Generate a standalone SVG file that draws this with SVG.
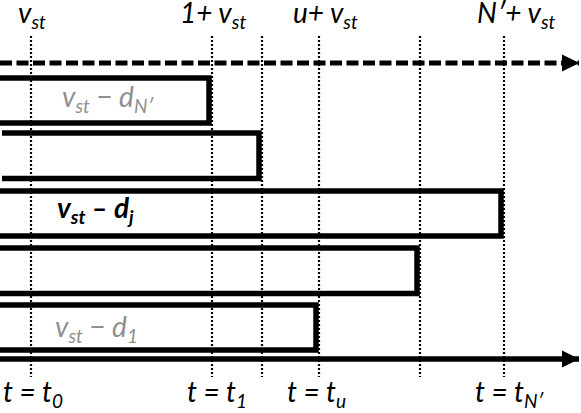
<svg xmlns="http://www.w3.org/2000/svg" width="581" height="413" viewBox="0 0 581 413">
<style>
text{font-family:Lato,"Open Sans","Liberation Sans",sans-serif;font-style:italic;font-size:28px;fill:#000}
.g{fill:#8f8f8f}
.b{font-weight:bold}
.sub{font-size:19px}
.dot{stroke:#000;stroke-width:2.2;stroke-dasharray:2 2;fill:none}
.bar{stroke:#000;stroke-width:5.5;fill:none}
</style>
<defs>
<marker id="ah" markerUnits="userSpaceOnUse" markerWidth="18" markerHeight="18" refX="17" refY="9" orient="auto" viewBox="0 0 18 18">
<path d="M0,0.5 L17.5,9 L0,17.5 Z" fill="#000"/>
</marker>
</defs>
<g id="grid">
<line class="dot" x1="31" y1="36" x2="31" y2="377"/>
<line class="dot" x1="212" y1="36" x2="212" y2="377"/>
<line class="dot" x1="262" y1="36" x2="262" y2="377"/>
<line class="dot" x1="319" y1="36" x2="319" y2="377"/>
<line class="dot" x1="420" y1="36" x2="420" y2="377"/>
<line class="dot" x1="504" y1="36" x2="504" y2="377"/>
</g>
<g id="connectors">
<line x1="0" y1="63" x2="579" y2="63" stroke="#000" stroke-width="5" stroke-dasharray="12 4.5" marker-end="url(#ah)"/>
<line x1="0" y1="359" x2="579" y2="359" stroke="#000" stroke-width="5.5" marker-end="url(#ah)"/>
</g>
<g id="bar-dN">
<path class="bar" d="M-5,78 H209 V123 H-5"/>
<text x="62" y="107" class="g">v<tspan class="sub" dy="6">st</tspan><tspan dy="-6"> − d</tspan><tspan class="sub" dy="6">N′</tspan></text>
</g>
<g id="bar-2">
<path class="bar" d="M2,133 H259 V178.5 H2"/>
</g>
<g id="bar-dj">
<path class="bar" d="M-5,191 H501 V236 H-5"/>
<text x="57" y="218" class="b">v<tspan class="sub" dy="6">st</tspan><tspan dy="-6"> – d</tspan><tspan class="sub" dy="6">j</tspan></text>
</g>
<g id="bar-4">
<path class="bar" d="M-5,248 H417 V293.5 H-5"/>
</g>
<g id="bar-d1">
<path class="bar" d="M-5,305 H316 V350 H-5"/>
<text x="55" y="337" class="g">v<tspan class="sub" dy="6">st</tspan><tspan dy="-6"> − d</tspan><tspan class="sub" dy="6">1</tspan></text>
</g>
<g id="top-labels">
<text x="18" y="23">v<tspan class="sub" dy="6">st</tspan></text>
<text x="180" y="23">1+ v<tspan class="sub" dy="6">st</tspan></text>
<text x="293" y="23">u+ v<tspan class="sub" dy="6">st</tspan></text>
<text x="477" y="23">N′+ v<tspan class="sub" dy="6">st</tspan></text>
</g>
<g id="bottom-labels">
<text x="3" y="402">t = t<tspan class="sub" dy="6">0</tspan></text>
<text x="187" y="402">t = t<tspan class="sub" dy="6">1</tspan></text>
<text x="287" y="402">t = t<tspan class="sub" dy="6">u</tspan></text>
<text x="475" y="402">t = t<tspan class="sub" dy="6">N′</tspan></text>
</g>
</svg>
